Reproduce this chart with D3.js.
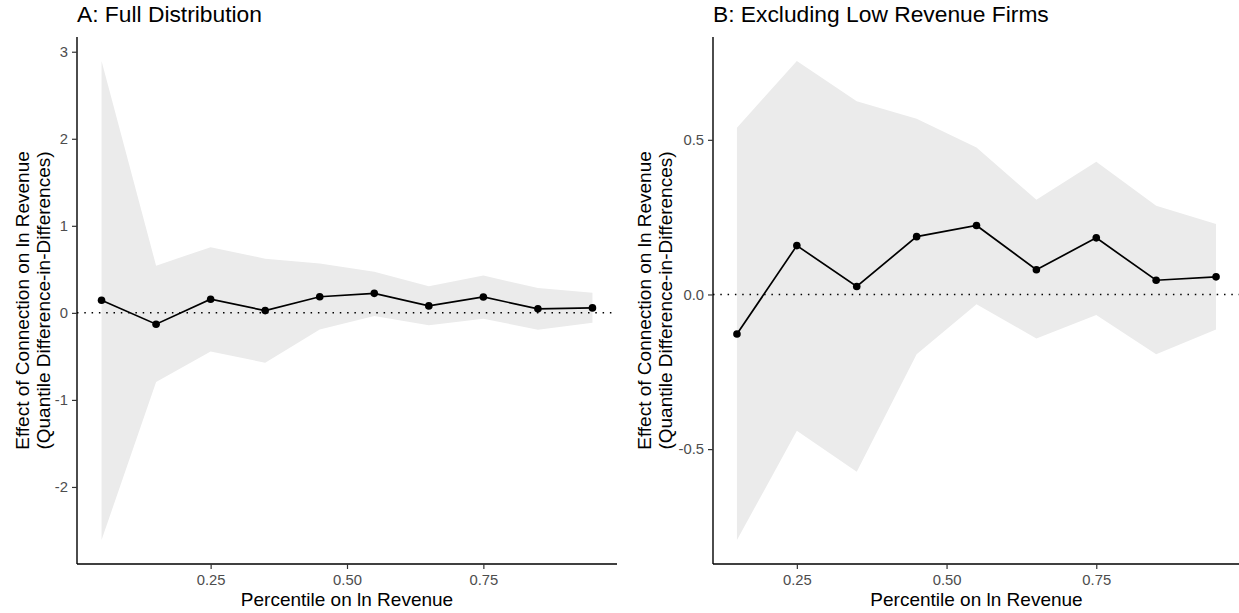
<!DOCTYPE html>
<html>
<head>
<meta charset="utf-8">
<script src="https://cdn.jsdelivr.net/npm/d3@7"></script>
<style>
  html, body { margin: 0; padding: 0; background: #fff; }
  svg { display: block; }
  text { font-family: "Liberation Sans", Arial, Helvetica, sans-serif; }
</style>
</head>
<body>
<svg id="chart" width="1239" height="613"></svg>
<script>
// ---- Data ----
const pctA  = [0.05, 0.15, 0.25, 0.35, 0.45, 0.55, 0.65, 0.75, 0.85, 0.95];
const estA  = [0.145, -0.130, 0.157, 0.026, 0.185, 0.224, 0.080, 0.183, 0.046, 0.057];
const lowA  = [-2.61, -0.793, -0.445, -0.572, -0.192, -0.035, -0.143, -0.067, -0.193, -0.113];
const highA = [2.894, 0.542, 0.755, 0.622, 0.566, 0.472, 0.306, 0.429, 0.285, 0.230];

const pctB  = [0.15, 0.25, 0.35, 0.45, 0.55, 0.65, 0.75, 0.85, 0.95];
const estB  = [-0.128, 0.158, 0.026, 0.187, 0.223, 0.080, 0.183, 0.046, 0.057];
const lowB  = [-0.794, -0.441, -0.573, -0.193, -0.032, -0.142, -0.066, -0.193, -0.113];
const highB = [0.539, 0.755, 0.625, 0.568, 0.475, 0.306, 0.429, 0.287, 0.228];

const xTicks  = [0.25, 0.50, 0.75];
const yTicksA = [-2, -1, 0, 1, 2, 3];
const yTicksB = [-0.5, 0.0, 0.5];

const titleA = "A: Full Distribution";
const titleB = "B: Excluding Low Revenue Firms";
const yLabel1 = "Effect of Connection on ln Revenue";
const yLabel2 = "(Quantile Difference-in-Differences)";
const xLabel = "Percentile on ln Revenue";

// ---- Drawing ----
const svg = d3.select("#chart");

function expand(ext, f = 0.05) {
  const d = (ext[1] - ext[0]) * f;
  return [ext[0] - d, ext[1] + d];
}

function panel(cfg) {
  const { pct, est, low, high, left, right, top, bottom, yTicks, yFmt, title, ylabOff } = cfg;
  const x = d3.scaleLinear().domain(expand(d3.extent(pct))).range([left, right]);
  const y = d3.scaleLinear()
    .domain(expand([d3.min(low), d3.max(high)]))
    .range([bottom, top]);

  const rows = pct.map((p, i) => ({ p, e: est[i], lo: low[i], hi: high[i] }));
  const g = svg.append("g");

  // ribbon
  g.append("path")
    .datum(rows)
    .attr("fill", "#ebebeb")
    .attr("d", d3.area().x(d => x(d.p)).y0(d => y(d.lo)).y1(d => y(d.hi)));

  // zero reference dotted line
  g.append("line")
    .attr("x1", left).attr("x2", right)
    .attr("y1", y(0)).attr("y2", y(0))
    .attr("stroke", "#000")
    .attr("stroke-width", 1.5)
    .attr("stroke-dasharray", "1.5,5.8");

  // estimate line
  g.append("path")
    .datum(rows)
    .attr("fill", "none")
    .attr("stroke", "#000")
    .attr("stroke-width", 1.7)
    .attr("d", d3.line().x(d => x(d.p)).y(d => y(d.e)));

  // points
  g.selectAll("circle.pt").data(rows).enter().append("circle")
    .attr("class", "pt")
    .attr("cx", d => x(d.p)).attr("cy", d => y(d.e))
    .attr("r", 3.8).attr("fill", "#000");

  // axes
  const xAxis = d3.axisBottom(x).tickValues(xTicks).tickFormat(d => d.toFixed(2))
    .tickSize(5).tickSizeOuter(0).tickPadding(5);
  const yAxis = d3.axisLeft(y).tickValues(yTicks).tickFormat(yFmt)
    .tickSize(5).tickSizeOuter(0).tickPadding(4);

  const gx = g.append("g").attr("transform", `translate(0,${bottom})`).call(xAxis);
  const gy = g.append("g").attr("transform", `translate(${left},0)`).call(yAxis);
  [gx, gy].forEach(a => {
    a.select(".domain").attr("stroke", "#000").attr("stroke-width", 1.4);
    a.selectAll(".tick line").attr("stroke", "#333").attr("stroke-width", 1.2);
    a.selectAll(".tick text").attr("fill", "#4d4d4d").style("font-size", "14.8px")
      .style("font-family", "'Liberation Sans', Arial, sans-serif");
  });
  gx.select(".domain").attr("d", `M${left},0H${right}`);
  gy.select(".domain").attr("d", `M0,${bottom}V${top}`);

  // title
  g.append("text")
    .attr("x", left).attr("y", 22)
    .attr("fill", "#000")
    .style("font-size", "22.8px")
    .text(title);

  // x label
  g.append("text")
    .attr("x", (left + right) / 2).attr("y", 606)
    .attr("text-anchor", "middle")
    .attr("fill", "#000")
    .style("font-size", "19px")
    .text(xLabel);

  // y label (two lines)
  const cy = (top + bottom) / 2;
  const yl = g.append("text")
    .attr("transform", `translate(${left + ylabOff},${cy}) rotate(-90)`)
    .attr("text-anchor", "middle")
    .attr("fill", "#000")
    .style("font-size", "19px");
  yl.append("tspan").attr("x", 0).attr("y", 0).text(yLabel1);
  yl.append("tspan").attr("x", 0).attr("y", 21).text(yLabel2);
}

panel({
  pct: pctA, est: estA, low: lowA, high: highA,
  left: 77, right: 617, top: 37, bottom: 564,
  yTicks: yTicksA, yFmt: d => String(d), title: titleA, ylabOff: -48
});

panel({
  pct: pctB, est: estB, low: lowB, high: highB,
  left: 713, right: 1240, top: 37, bottom: 564,
  yTicks: yTicksB, yFmt: d => d.toFixed(1), title: titleB, ylabOff: -62
});
</script>
</body>
</html>
